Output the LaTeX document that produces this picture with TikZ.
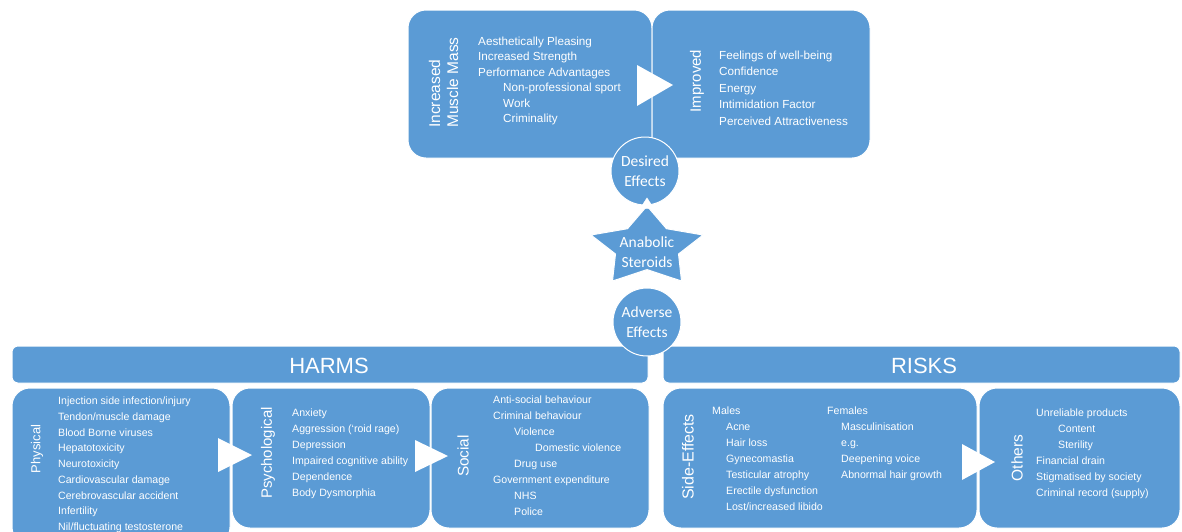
\documentclass[tikz,border=0pt]{standalone}
\usepackage{fontspec}
\setmainfont{Liberation Sans}
\newfontfamily\calfont{Carlito}
\usetikzlibrary{arrows.meta}
\definecolor{boxblue}{HTML}{5B9BD5}
\begin{document}
\begin{tikzpicture}[x=1pt,y=-1pt,
  box/.style={draw=white, line width=1pt, fill=boxblue, rounded corners=18pt, inner sep=0pt},
  bar/.style={box, rounded corners=6pt},
  circ/.style={circle, draw=white, line width=1pt, fill=boxblue, minimum size=68pt, inner sep=0pt},
  lst/.style={anchor=north west, inner sep=0pt, align=left, text=white},
  vlab/.style={rotate=90, text=white, inner sep=0pt, align=left},
  ctext/.style={text=white, align=center, font=\calfont\fontsize{15.5}{20}\selectfont, inner sep=0pt},
  chev/.style={fill=white},
  tri/.style={white, line width=0.4pt, -{Triangle[length=11pt,width=14pt]}}
]
\useasboundingbox (0,0) rectangle (1182,531);

% top boxes
\node[box, minimum width=244pt, minimum height=148pt] (imm) at (530,84) {};
\node[box, minimum width=218pt, minimum height=148pt] (impr) at (761,84) {};
\fill[chev] (637,65) -- (637,106) -- (673,85) -- cycle;

\node[vlab, font=\fontsize{15.5}{18}\selectfont] (immlab) at (443.5,82.5) {Increased\\Muscle Mass};
\node[lst, font=\fontsize{11.7}{15.5}\selectfont] (immlst) at (478,36.7)
 {Aesthetically Pleasing\\Increased Strength\\Performance Advantages\\
  \hspace*{25pt}Non-professional sport\\\hspace*{25pt}Work\\\hspace*{25pt}Criminality};

\node[vlab, font=\fontsize{15}{18}\selectfont] (imprlab) at (697,81) {Improved};
\node[lst, font=\fontsize{11.7}{16.5}\selectfont] (imprlst) at (719,50.7)
 {Feelings of well-being\\Confidence\\Energy\\Intimidation Factor\\Perceived Attractiveness};

% bars
\node[bar, minimum width=636pt, minimum height=37pt] (harms) at (330,364.5) {};
\node[bar, minimum width=517pt, minimum height=37pt] (risks) at (921.5,364.5) {};
\node[text=white, font=\fontsize{22}{26}\selectfont, inner sep=0pt] (harmslab) at (329,366) {HARMS};
\node[text=white, font=\fontsize{22}{26}\selectfont, inner sep=0pt] (riskslab) at (924,366) {RISKS};

% bottom boxes
\node[box, minimum width=218pt, minimum height=157pt] (phys) at (121,466.5) {};
\node[box, minimum width=198pt, minimum height=140pt] (psych) at (331,458) {};
\node[box, minimum width=218pt, minimum height=140pt] (social) at (540,458) {};
\node[box, minimum width=314pt, minimum height=140pt] (side) at (820,458) {};
\node[box, minimum width=201pt, minimum height=140pt] (others) at (1079.5,458) {};

\fill[chev] (218,438) -- (218,472) -- (252,455) -- cycle;
\fill[chev] (415,440) -- (415,472) -- (448,456) -- cycle;
\fill[chev] (962,444) -- (962,480) -- (995,462) -- cycle;

\node[vlab, font=\fontsize{13}{16}\selectfont] (physlab) at (37,449) {Physical};
\node[lst, font=\fontsize{10.6}{15.7}\selectfont] (physlst) at (58,397)
 {Injection side infection/injury\\Tendon/muscle damage\\Blood Borne viruses\\Hepatotoxicity\\Neurotoxicity\\
  Cardiovascular damage\\Cerebrovascular accident\\Infertility\\Nil/fluctuating testosterone};

\node[vlab, font=\fontsize{15}{18}\selectfont] (psychlab) at (268,453) {Psychological};
\node[lst, font=\fontsize{10.6}{16}\selectfont] (psychlst) at (292,409)
 {Anxiety\\Aggression (`roid rage)\\Depression\\Impaired cognitive ability\\Dependence\\Body Dysmorphia};

\node[vlab, font=\fontsize{15.4}{18}\selectfont] (sociallab) at (463,456) {Social};
\node[lst, font=\fontsize{10.6}{16}\selectfont] (sociallst) at (493,396)
 {Anti-social behaviour\\Criminal behaviour\\\hspace*{21pt}Violence\\\hspace*{42pt}Domestic violence\\
  \hspace*{21pt}Drug use\\Government expenditure\\\hspace*{21pt}NHS\\\hspace*{21pt}Police};

\node[vlab, font=\fontsize{16}{18}\selectfont] (sidelab) at (688,457) {Side-Effects};
\node[lst, font=\fontsize{10.6}{16}\selectfont] (males) at (712,407)
 {Males\\\hspace*{14pt}Acne\\\hspace*{14pt}Hair loss\\\hspace*{14pt}Gynecomastia\\\hspace*{14pt}Testicular atrophy\\
  \hspace*{14pt}Erectile dysfunction\\\hspace*{14pt}Lost/increased libido};
\node[lst, font=\fontsize{10.6}{16}\selectfont] (females) at (827,407)
 {Females\\\hspace*{14pt}Masculinisation\\\hspace*{14pt}e.g.\\\hspace*{14pt}Deepening voice\\\hspace*{14pt}Abnormal hair growth};

\node[vlab, font=\fontsize{15.5}{18}\selectfont] (otherslab) at (1017,458) {Others};
\node[lst, font=\fontsize{10.6}{16}\selectfont] (otherslst) at (1036,409)
 {Unreliable products\\\hspace*{22pt}Content\\\hspace*{22pt}Sterility\\Financial drain\\Stigmatised by society\\Criminal record (supply)};

% star
\draw[draw=white, line width=1pt, fill=boxblue]
  (647,206) coordinate (startop) -- (666.5,228.7) -- (703,235.0) -- (678.5,254.0) -- (681.5,281)
  -- (647,269.6) coordinate (starbot) -- (612.5,281) -- (615.5,254.0) -- (591,235.0) -- (627.5,228.7) -- cycle;
\node[ctext] (star) at (647,252) {Anabolic\\Steroids};

% circles
\node[circ] (desired) at (645,171) {};
\node[ctext] (desiredlab) at (desired) {Desired\\Effects};
\node[circ] (adverse) at (647,322) {};
\node[ctext] (adverselab) at (adverse) {Adverse\\Effects};

% connectors
\draw[tri, shorten >=-8pt] (startop) -- (startop |- desired.south);
\draw[tri, shorten <=7pt] (starbot) -- (adverse.north);
\end{tikzpicture}
\end{document}
